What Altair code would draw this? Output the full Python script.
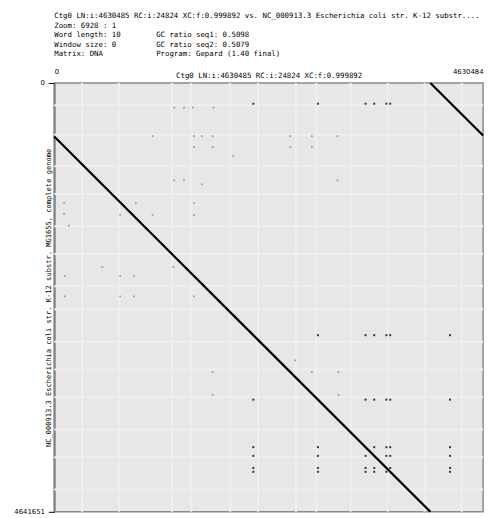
import altair as alt
import pandas as pd

# ---- sequence lengths (axis ends) ----
len_x = 4630484   # Ctg0
len_y = 4641651   # NC_000913.3

# ---- main match line, split at the contig origin ----
seg_name = ["a", "b"]
seg_x0 = [0, 4061651]
seg_x1 = [4061651, 4630484]
seg_y0 = [580000, 0]
seg_y1 = [4641651, 568833]

# ---- repeated rRNA operons: positions on NC_000913.3 (y) and on Ctg0 (x) ----
rrn_y = [223771, 2729616, 3427221, 3941808, 4035531, 4166659, 4208147]
rrn_x = [4274255, 2149616, 2847221, 3361808, 3455531, 3586659, 3628147]

# ---- faint short repeats (kb) ----
faint_x_kb = [1296, 1402, 1497, 1720, 1062, 1508, 1593, 1710, 2549, 2782, 3059,
              1508, 1710, 2549, 2782, 1933, 1296, 1402, 3059, 1593, 106, 106,
              712, 860, 1062, 1508, 1508, 159, 881, 117, 712, 860, 117, 712,
              860, 1508, 520, 1285, 1710, 1710, 2602, 2782, 3069, 3069]
faint_y_kb = [266, 266, 266, 266, 575, 575, 575, 575, 575, 575, 575,
              692, 692, 692, 692, 788, 1054, 1054, 1054, 1097, 1299, 1416,
              1427, 1427, 1427, 1427, 1299, 1544, 1299, 2087, 2087, 2087, 2310, 2310,
              2310, 2310, 1991, 1991, 3130, 3375, 3002, 3130, 3130, 3375]

# ---- lighter background bands (kb) ----
vband_kb = [1270, 1480, 1900, 2200, 2610, 2830, 3200, 3600, 4000, 4400, 700, 300]
hband_kb = [240, 560, 900, 1200, 1550, 1850, 2200, 2450, 2800, 3100, 3400, 3750, 4050, 4400]

# ---- texts ----
x_title = "Ctg0 LN:i:4630485 RC:i:24824 XC:f:0.999892"
y_title = "NC_000913.3 Escherichia coli str. K-12 substr. MG1655, complete genome"
NB = "\u00a0"
header = [
    "Ctg0 LN:i:4630485 RC:i:24824 XC:f:0.999892 vs. NC_000913.3 Escherichia coli str. K-12 substr....",
    "Zoom: 6928 : 1",
    "Word length: 10".ljust(23, NB) + "GC ratio seq1: 0.5098",
    "Window size: 0".ljust(23, NB) + "GC ratio seq2: 0.5079",
    "Matrix: DNA".ljust(23, NB) + "Program: Gepard (1.40 final)",
]

segs = pd.DataFrame({"seg": seg_name, "x": seg_x0, "x2": seg_x1, "y": seg_y0, "y2": seg_y1})
rrn = pd.DataFrame([{"x": rrn_x[j], "y": rrn_y[i]}
                    for i in range(len(rrn_y)) for j in range(len(rrn_x)) if i != j])
faint = pd.DataFrame({"x": [v * 1000 for v in faint_x_kb], "y": [v * 1000 for v in faint_y_kb]})
vb = pd.DataFrame({"x": [v * 1000 for v in vband_kb]})
hb = pd.DataFrame({"y": [v * 1000 for v in hband_kb]})

mono = "DejaVu Sans Mono"
sans = "DejaVu Sans"

xscale = alt.Scale(domain=[0, len_x], nice=False, zero=False)
yscale = alt.Scale(domain=[0, len_y], nice=False, zero=False, reverse=True)

xaxis = alt.Axis(orient="top", values=[0, len_x], format="d", labelFlush=True,
                 ticks=False, domain=False, grid=False, labelPadding=9,
                 labelFont=sans, labelFontSize=7, labelColor="black",
                 title=x_title, titleFont=mono, titleFontSize=7.5, titleFontWeight="normal",
                 titleColor="black", titleY=-4, titleBaseline="bottom")
yaxis = alt.Axis(orient="left", values=[0, len_y], format="d", labelFlush=False,
                 ticks=True, tickSize=6, tickColor="black", domain=True,
                 domainColor="#808080", domainWidth=2, grid=False, labelPadding=4,
                 labelFont=sans, labelFontSize=7, labelColor="black", labelBaseline="middle",
                 title=y_title, titleFont=mono, titleFontSize=7.2, titleFontWeight="normal",
                 titleColor="black", titleX=-2, titleY=218, titleAngle=270,
                 titleBaseline="bottom")

vband_layer = alt.Chart(vb).mark_rule(color="#efefef", strokeWidth=2).encode(
    x=alt.X("x:Q", scale=xscale, axis=xaxis),
)
hband_layer = alt.Chart(hb).mark_rule(color="#efefef", strokeWidth=2).encode(
    y=alt.Y("y:Q", scale=yscale, axis=yaxis),
)
faint_layer = alt.Chart(faint).mark_square(size=3, color="#9a9a9a", opacity=1).encode(
    x=alt.X("x:Q", scale=xscale),
    y=alt.Y("y:Q", scale=yscale),
)
rrn_layer = alt.Chart(rrn).mark_square(size=4, color="#333333", opacity=1).encode(
    x=alt.X("x:Q", scale=xscale),
    y=alt.Y("y:Q", scale=yscale),
)
line_layer = alt.Chart(segs).mark_rule(color="black", strokeWidth=2.2).encode(
    x=alt.X("x:Q", scale=xscale),
    x2="x2:Q",
    y=alt.Y("y:Q", scale=yscale),
    y2="y2:Q",
)

chart = alt.layer(vband_layer, hband_layer, faint_layer, rrn_layer, line_layer).properties(
    width=436, height=436,
    background="white",
    autosize=alt.AutoSizeParams(type="none"),
    padding={"left": 47, "top": 72, "right": 3, "bottom": 2},
    title=alt.TitleParams(text=header, anchor="start", frame="group", font=mono,
                          fontSize=7.5, fontWeight="normal", color="black",
                          lineHeight=9.6, offset=10),
).configure_view(fill="#e7e7e7", stroke="#8a8a8a", strokeWidth=1.5)

chart.save("out.html", embed_options={"renderer": "svg", "actions": False})
